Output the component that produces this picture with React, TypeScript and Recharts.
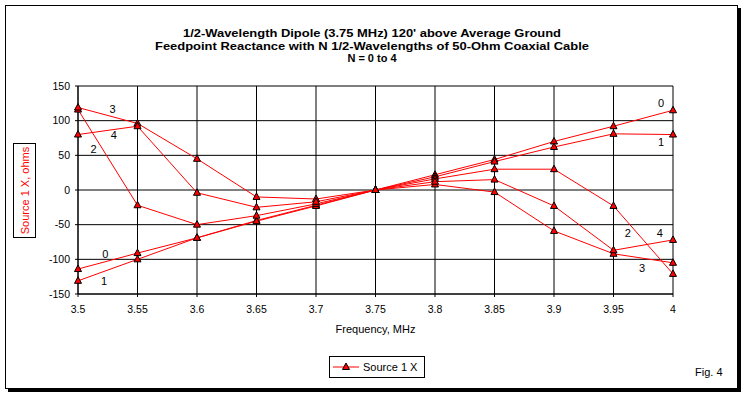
import { CartesianGrid, Line, LineChart, ReferenceDot, XAxis, YAxis } from "recharts";

// frequency, MHz
const freqs = [3.5, 3.55, 3.6, 3.65, 3.7, 3.75, 3.8, 3.85, 3.9, 3.95, 4];
const yTicks = [-150, -100, -50, 0, 50, 100, 150];

// feedpoint reactance (ohms) for N half-wavelengths of coax
const n0 = [-114, -91, -69, -44, -22, 0, 22, 44, 70, 92, 115];
const n1 = [-131, -100, -69, -45, -23, 0, 19, 41, 62, 81, 80];
const n2 = [116, -22, -50, -37, -20, 0, 16, 30, 30, -23, -121];
const n3 = [119, 96, 45, -10, -13, 0, 8, -3, -59, -92, -105];
const n4 = [80, 92, -4, -25, -17, 0, 12, 15, -23, -87, -72];

// little "N" tags placed next to the curves
const tagText = ["3", "4", "2", "0", "1", "0", "1", "2", "4", "3"];
const tagFreq = [3.529, 3.53, 3.513, 3.523, 3.522, 3.99, 3.99, 3.962, 3.989, 3.974];
const tagX = [117, 80, 59, -92, -131, 126, 69, -62, -62, -112];

const data = freqs.map((f, i) => ({
  f,
  n0: n0[i],
  n1: n1[i],
  n2: n2[i],
  n3: n3[i],
  n4: n4[i],
}));

const RED = "#ff0000";
const FONT = "'Liberation Sans', Arial, sans-serif";

function Tri(props: any) {
  const { cx, cy } = props;
  if (cx == null || cy == null) return null;
  return (
    <path
      d={`M${cx},${cy - 4} L${cx + 3.5},${cy + 2.5} L${cx - 3.5},${cy + 2.5} Z`}
      fill={RED}
      stroke="#000"
      strokeWidth={1}
    />
  );
}

const tickStyle = { fontSize: 10.5, fill: "#000", fontFamily: FONT };

export default function App() {
  const keys = ["n0", "n1", "n2", "n3", "n4"];
  return (
    <div
      style={{
        position: "absolute",
        left: 0,
        top: 0,
        width: 744,
        height: 396,
        background: "#fff",
        fontFamily: FONT,
      }}
    >
      <LineChart
        width={744}
        height={396}
        data={data}
        margin={{ top: 86, right: 71, left: 8, bottom: 72 }}
      >
        <CartesianGrid stroke="#000" strokeWidth={1} fill="none" />
        <XAxis
          dataKey="f"
          type="number"
          domain={[3.5, 4]}
          ticks={freqs}
          interval={0}
          height={30}
          tickSize={3}
          tickMargin={9}
          axisLine={{ stroke: "#000" }}
          tickLine={{ stroke: "#000" }}
          tick={tickStyle}
        />
        <YAxis
          type="number"
          domain={[-150, 150]}
          ticks={yTicks}
          interval={0}
          width={70}
          tickSize={3}
          tickMargin={5}
          axisLine={{ stroke: "#000" }}
          tickLine={{ stroke: "#000" }}
          tick={tickStyle}
        />
        {keys.map((k) => (
          <Line
            key={k}
            dataKey={k}
            type="linear"
            stroke={RED}
            strokeWidth={1}
            dot={<Tri />}
            activeDot={false}
            isAnimationActive={false}
          />
        ))}
        {tagText.map((t, i) => (
          <ReferenceDot
            key={i}
            x={tagFreq[i]}
            y={tagX[i]}
            r={0}
            shape={(p: any) => (
              <text
                x={p.cx}
                y={p.cy}
                textAnchor="middle"
                dominantBaseline="central"
                fontSize={11}
                fontFamily={FONT}
                fill="#000"
              >
                {t}
              </text>
            )}
          />
        ))}
      </LineChart>

      <svg
        width={744}
        height={396}
        style={{ position: "absolute", left: 0, top: 0, pointerEvents: "none" }}
      >
        {/* frame with drop shadow */}
        <rect x={5.5} y={5.5} width={732} height={383} fill="none" stroke="#000" />
        <rect x={738} y={8} width={3} height={384} fill="#000" />
        <rect x={8} y={389} width={733} height={3} fill="#000" />

        {/* title */}
        <g fontFamily="'Liberation Sans Narrow', 'Arial Narrow', 'Liberation Sans', Arial, sans-serif" fontWeight="bold" fontSize={11} fill="#000" textAnchor="middle">
          <text x={372} y={37} textLength={378} lengthAdjust="spacingAndGlyphs">
            1/2-Wavelength Dipole (3.75 MHz) 120' above Average Ground
          </text>
          <text x={372} y={50} textLength={434} lengthAdjust="spacingAndGlyphs">
            Feedpoint Reactance with N 1/2-Wavelengths of 50-Ohm Coaxial Cable
          </text>
          <text x={372} y={62}>N = 0 to 4</text>
        </g>

        {/* y axis title */}
        <rect x={13.5} y={143.5} width={22} height={94} fill="#fff" stroke="#000" />
        <text
          transform="translate(29,190.5) rotate(-90)"
          textAnchor="middle"
          fontSize={11}
          fontFamily={FONT}
          fill={RED}
        >
          Source 1 X, ohms
        </text>

        {/* x axis title */}
        <text x={375.5} y={333} textAnchor="middle" fontSize={11} fontFamily={FONT} fill="#000">
          Frequency, MHz
        </text>

        {/* legend */}
        <rect x={329.5} y={356.5} width={95} height={21} fill="#fff" stroke="#000" />
        <line x1={333} y1={367} x2={359} y2={367} stroke={RED} />
        <Tri cx={346} cy={367} />
        <text x={363} y={371} fontSize={11} fontFamily={FONT} fill="#000">
          Source 1 X
        </text>

        <text x={695} y={376} fontSize={11} fontFamily={FONT} fill="#000">
          Fig. 4
        </text>
      </svg>
    </div>
  );
}
